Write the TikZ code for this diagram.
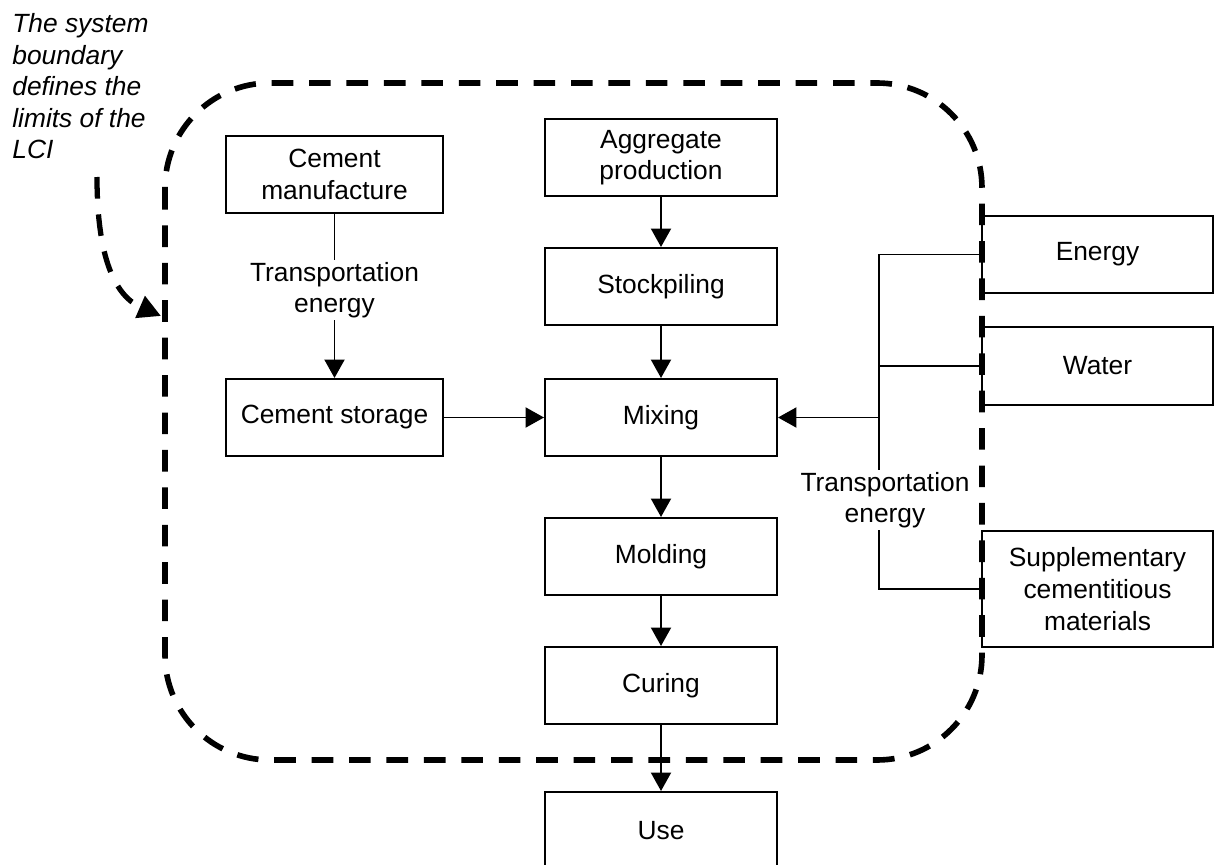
\documentclass[tikz,border=0pt]{standalone}
\usepackage{fontspec}
\setmainfont{Liberation Sans}
\usetikzlibrary{arrows.meta,positioning}

\begin{document}
\begin{tikzpicture}[x=0.02cm, y=-0.02cm,
  every node/.style={font=\fontsize{15}{18}\selectfont, align=center},
  box/.style={draw, line width=1.2pt, fill=white, inner sep=2pt},
  mid/.style={box, minimum width=4.64cm, minimum height=1.54cm},
  side/.style={box, minimum width=4.34cm, minimum height=1.54cm},
  src/.style={box, minimum width=4.62cm},
  flow/.style={-{Triangle[length=10.5pt,width=11.5pt]}, line width=0.8pt},
  link/.style={line width=0.8pt},
  boundary/.style={line width=3.2pt, dash pattern=on 12.3pt off 9pt}]
  \useasboundingbox (0,0) rectangle (1214,865);

  % main chain
  \node[mid] (agg)   at (661,157.5) {Aggregate\\production};
  \node[mid] (stock) at (661,286.5) {Stockpiling};
  \node[mid] (mix)   at (661,417.5) {Mixing};
  \node[mid] (mold)  at (661,556.5) {Molding};
  \node[mid] (cure)  at (661,685.5) {Curing};
  \node[mid] (use)   at (661,830.5) {Use};

  % cement branch
  \node[side] (cman)   at (334.5,174.5) {Cement\\manufacture};
  \node[side] (cstore) at (334.5,417.5) {Cement storage};
  \node[inner sep=1pt] (tleft) at (334.5,290) {Transportation\\energy};

  % inputs from outside
  \node[src, minimum height=1.54cm] (energy) at (1097.5,254.5) {Energy};
  \node[src, minimum height=1.56cm] (water)  at (1097.5,366) {Water};
  \node[src, minimum height=2.32cm] (scm)    at (1097.5,589) {Supplementary\\cementitious\\materials};
  \node[inner sep=1pt] (tright) at (885,500) {Transportation\\energy};

  \draw[flow] (agg) -- (stock);
  \draw[flow] (stock) -- (mix);
  \draw[flow] (mix) -- (mold);
  \draw[flow] (mold) -- (cure);
  \draw[flow] (cure) -- (use);

  \draw[link] (cman) -- (tleft);
  \draw[flow] (tleft) -- (cstore);
  \draw[flow] (cstore) -- (mix);

  \coordinate (bus) at (879,254.5);
  \draw[link] (energy.west) -- (bus) -- (bus |- tright.north);
  \draw[link] (water.west) -- (water.west -| bus);
  \draw[link] (bus |- tright.south) |- (scm.west);
  \draw[flow] (mix.east -| bus) -- (mix.east);

  % system boundary
  \draw[boundary, rounded corners=2.1cm] (165,83) rectangle (982,760);

  \node[anchor=north west, align=left, inner sep=0pt,
        font=\fontsize{15}{18}\selectfont\itshape] (note) at (12,13)
        {The system\\boundary\\defines the\\limits of the\\LCI};
  \coordinate (notestart) at (97,177);
  \coordinate (notetip) at (161,316);
  \draw[boundary, line width=3pt, -{Triangle[length=13pt,width=13pt]}]
    (notestart) .. controls (97,258) and (115,296) .. (notetip);
\end{tikzpicture}
\end{document}
